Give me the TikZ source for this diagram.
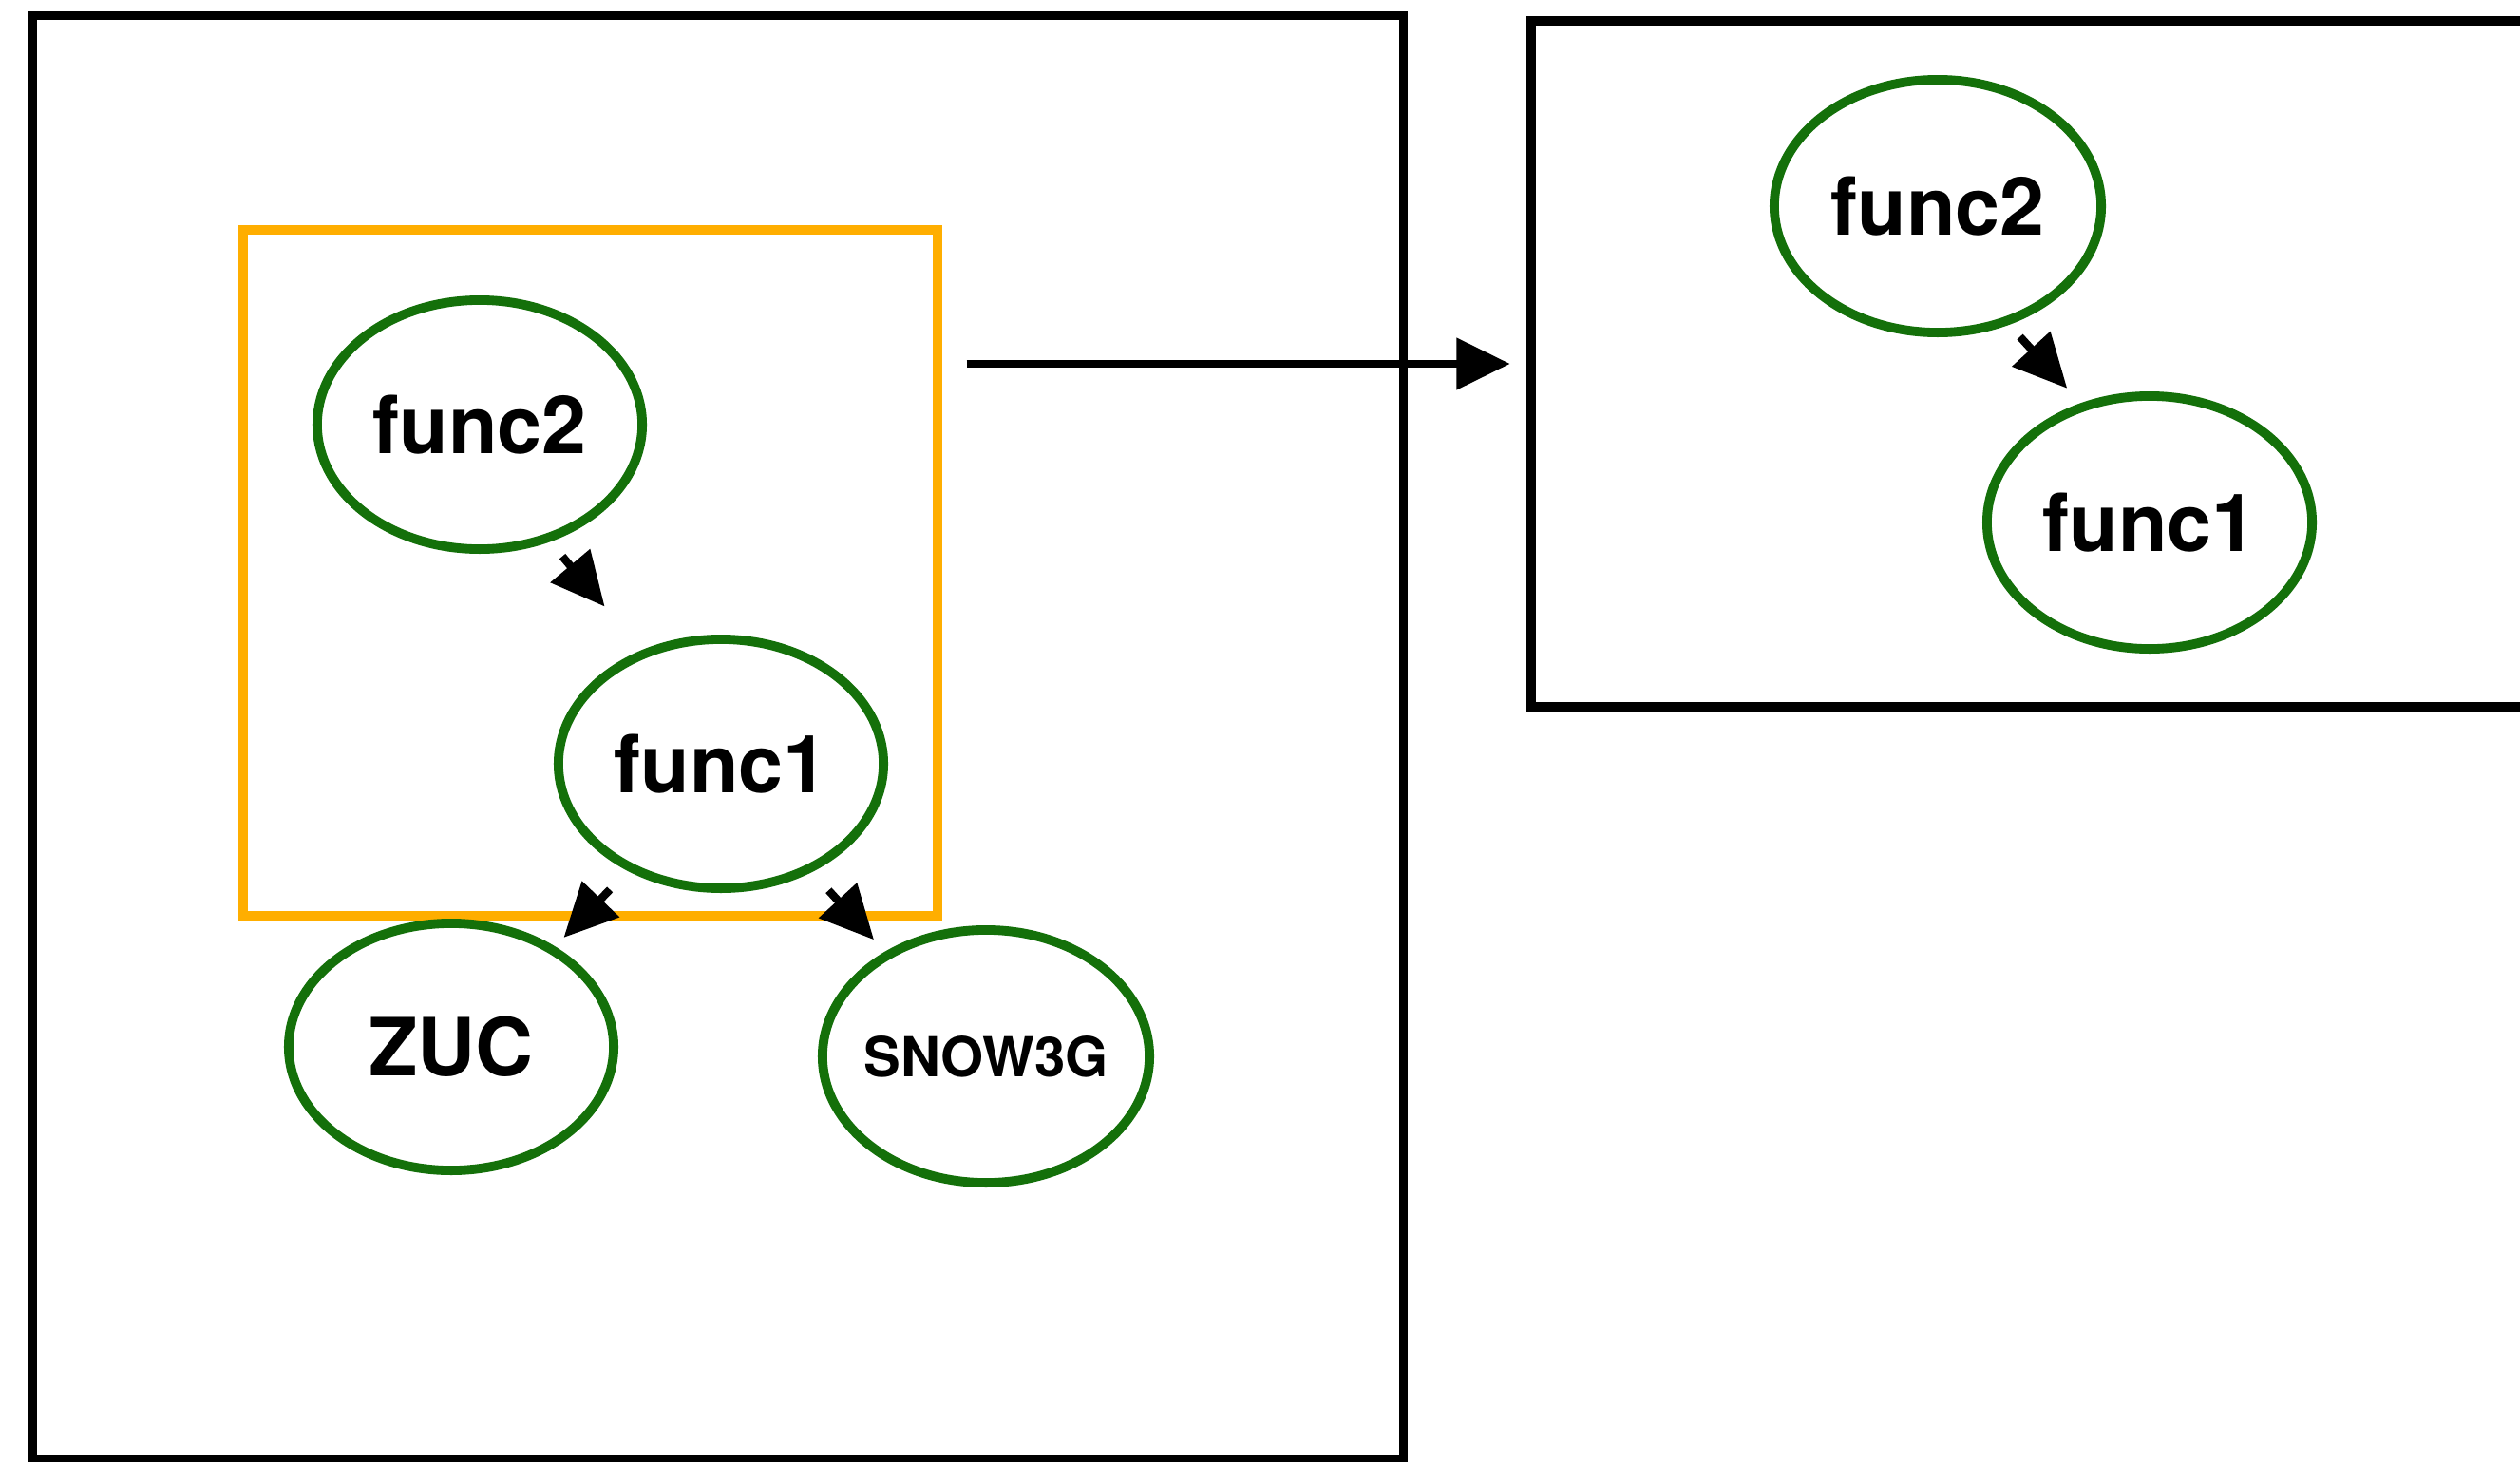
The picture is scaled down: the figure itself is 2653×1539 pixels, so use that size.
\documentclass[tikz,border=0pt]{standalone}
\usepackage{fontspec}
\setmainfont{TeX Gyre Heros}
\usetikzlibrary{arrows.meta,shapes.geometric,positioning}
\definecolor{fgreen}{RGB}{20,112,10}
\definecolor{forange}{RGB}{255,174,0}

\begin{document}
\begin{tikzpicture}[x=0.01cm, y=-0.01cm,
  frame/.style={draw=black, line width=2.8pt, rectangle, inner sep=0pt},
  group/.style={draw=forange, line width=3pt, rectangle, inner sep=0pt},
  func/.style={draw=fgreen, line width=2.8pt, ellipse, inner sep=0pt, inner xsep=-0.4cm,
    minimum width=3.42cm, minimum height=2.62cm, font=\bfseries\fontsize{24}{29}\selectfont},
  arr/.style={line width=2.4pt, -{Triangle[length=16pt, width=15pt]}}]
\useasboundingbox (0,0) rectangle (2653,1539);
\node[frame, minimum width=14.43cm, minimum height=15.19cm] (lbox) at (755.5,776.5) {};
\node[frame, minimum width=11.08cm, minimum height=7.22cm] (rbox) at (2166,383) {};
\node[group, minimum width=7.31cm, minimum height=7.22cm] (hl) at (621.5,603) {};
\node[func] (f2l) at (505,447) {func2};
\node[func] (f1l) at (759,804) {func1};
\node[func, minimum height=2.6cm] (zuc) at (475,1102) {ZUC};
\node[func, minimum width=3.44cm, minimum height=2.66cm, font=\bfseries\fontsize{16.5}{20}\selectfont] (snow) at (1038,1112) {SNOW3G};
\node[func, minimum width=3.44cm, minimum height=2.66cm] (f2r) at (2040,217) {func2};
\node[func, minimum width=3.42cm, minimum height=2.66cm] (f1r) at (2263,550) {func1};
\draw[arr, shorten <=0.2cm, shorten >=0.6cm] (f2l.-59) -- (f1l.125);
\draw[arr, shorten <=0.27cm, shorten >=0.13cm] (f1l.-131) -- (zuc.44);
\draw[arr, shorten <=0.26cm, shorten >=0.17cm] (f1l.-50) -- (snow.134);
\draw[arr, shorten <=0.17cm, shorten >=0.21cm] (f2r.-59) -- (f1r.120);
\draw[arr, shorten <=0.25cm, shorten >=0.17cm] (hl.east |- rbox.west) -- (rbox.west);
\end{tikzpicture}
\end{document}
